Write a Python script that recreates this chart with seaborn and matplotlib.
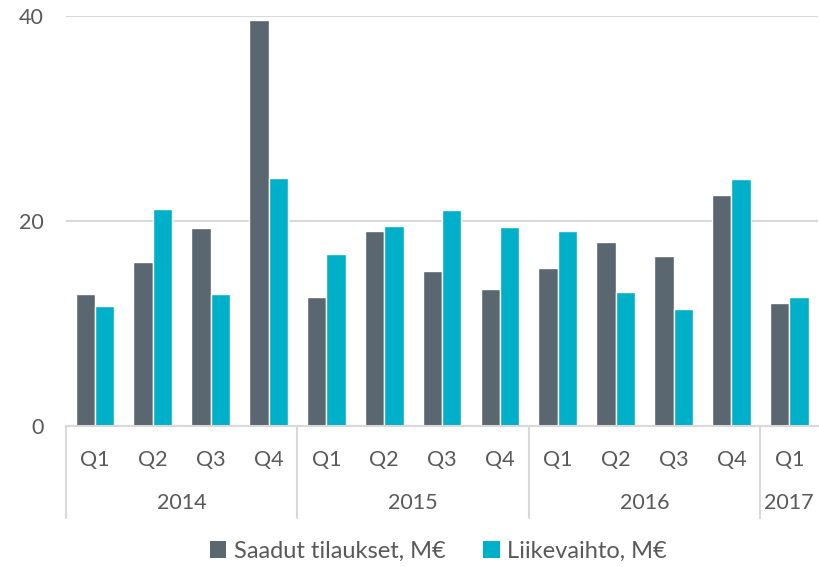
import pandas as pd
import numpy as np
import seaborn as sns
import matplotlib.pyplot as plt
from matplotlib.transforms import blended_transform_factory
from matplotlib.lines import Line2D
from matplotlib.patches import Patch

# data
years = ["2014", "2014", "2014", "2014", "2015", "2015", "2015", "2015",
         "2016", "2016", "2016", "2016", "2017"]
quarters = ["Q1", "Q2", "Q3", "Q4", "Q1", "Q2", "Q3", "Q4",
            "Q1", "Q2", "Q3", "Q4", "Q1"]
orders = [12.9, 16.0, 19.3, 39.6, 12.6, 19.0, 15.1, 13.4, 15.4, 18.0, 16.6, 22.5, 12.0]
revenue = [11.7, 21.2, 12.9, 24.2, 16.8, 19.5, 21.1, 19.4, 19.0, 13.1, 11.4, 24.1, 12.6]
series_names = ["Saadut tilaukset, M€", "Liikevaihto, M€"]

sns.set_style("white")
plt.rcParams['font.family'] = ['Lato', 'DejaVu Sans']
text_col = "#595959"
grid_col = "#D9D9D9"
colors = ["#5A6670", "#00B0C8"]

periods = [y + " " + q for y, q in zip(years, quarters)]
df = pd.DataFrame({
    "period": periods * 2,
    "value": orders + revenue,
    "series": [series_names[0]] * len(orders) + [series_names[1]] * len(revenue),
})

fig = plt.figure(figsize=(8.19, 5.67), dpi=100)
ax = fig.add_axes([66 / 819, 1 - 426 / 567, 1 - 66 / 819 - 0.001, 410 / 567])

sns.barplot(data=df, x="period", y="value", hue="series", order=periods,
            hue_order=series_names, palette=colors, width=0.67,
            saturation=1, ax=ax, legend=False)

ax.set_ylim(0, 40)
ax.set_xlim(-0.5, len(periods) - 0.5)
ax.set_yticks([0, 20, 40])
ax.yaxis.grid(True, color=grid_col, linewidth=1.5)
ax.set_axisbelow(True)
for s in ["top", "right", "left"]:
    ax.spines[s].set_visible(False)
ax.spines["bottom"].set_color(grid_col)
ax.spines["bottom"].set_linewidth(1.5)
ax.tick_params(axis="y", length=0, pad=16, labelsize=15.5, labelcolor=text_col)
ax.set_xticks([])
ax.set_xlabel("")
ax.set_ylabel("")

# two-level category axis
trans = blended_transform_factory(ax.transData, fig.transFigure)
for i, q in enumerate(quarters):
    ax.text(i, 1 - 460 / 567, q, transform=trans, ha="center", va="center",
            fontsize=15.5, color=text_col)

uniq = list(dict.fromkeys(years))
bounds = [-0.5]
for y in uniq:
    idx = [i for i, yy in enumerate(years) if yy == y]
    ax.text(np.mean(idx), 1 - 503 / 567, y, transform=trans, ha="center",
            va="center", fontsize=15.5, color=text_col)
    bounds.append(max(idx) + 0.5)
for b in bounds:
    if b >= len(periods) - 0.5:
        continue
    fig.add_artist(Line2D([b, b], [1 - 426 / 567, 1 - 518 / 567], transform=trans,
                          color=grid_col, linewidth=1.5))

handles = [Patch(facecolor=c, edgecolor="none") for c in colors]
leg = fig.legend(handles, series_names, loc="center", bbox_to_anchor=(0.535, 1 - 551 / 567),
                 ncol=2, frameon=False, fontsize=17, handlelength=0.7,
                 handleheight=0.7, handletextpad=0.3, columnspacing=1.6)
for t in leg.get_texts():
    t.set_color(text_col)

fig.savefig("out.png", dpi=100)
